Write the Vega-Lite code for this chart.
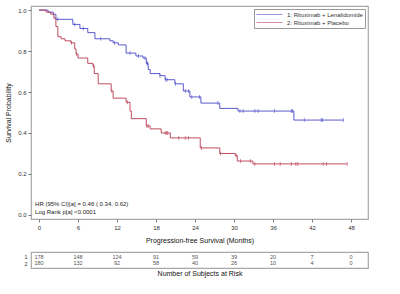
{
  "$schema": "https://vega.github.io/schema/vega-lite/v6.json",
  "background": "white",
  "padding": {"left": 4, "top": 5, "right": 5, "bottom": 5},
  "bounds": "flush",
  "spacing": 33,
  "config": {
    "font": "Liberation Sans",
    "view": {"stroke": "#a8a8a8", "strokeWidth": 1.2},
    "axis": {
      "labelFont": "Liberation Sans",
      "titleFont": "Liberation Sans",
      "labelColor": "#333333",
      "titleColor": "#111111",
      "titleFontWeight": "normal",
      "grid": false,
      "domain": false,
      "tickColor": "#777777"
    }
  },
  "datasets": {
    "km": [
      {"arm": "1: Rituximab + Lenalidomide", "month": 0, "surv": 1.0},
      {"arm": "1: Rituximab + Lenalidomide", "month": 1.4, "surv": 0.99},
      {"arm": "1: Rituximab + Lenalidomide", "month": 2.2, "surv": 0.98},
      {"arm": "1: Rituximab + Lenalidomide", "month": 2.6, "surv": 0.955},
      {"arm": "1: Rituximab + Lenalidomide", "month": 5.2, "surv": 0.93},
      {"arm": "1: Rituximab + Lenalidomide", "month": 6.3, "surv": 0.91},
      {"arm": "1: Rituximab + Lenalidomide", "month": 7.5, "surv": 0.89},
      {"arm": "1: Rituximab + Lenalidomide", "month": 8.6, "surv": 0.86},
      {"arm": "1: Rituximab + Lenalidomide", "month": 10.9, "surv": 0.85},
      {"arm": "1: Rituximab + Lenalidomide", "month": 11.4, "surv": 0.84},
      {"arm": "1: Rituximab + Lenalidomide", "month": 12.2, "surv": 0.83},
      {"arm": "1: Rituximab + Lenalidomide", "month": 13.4, "surv": 0.79},
      {"arm": "1: Rituximab + Lenalidomide", "month": 14.9, "surv": 0.776},
      {"arm": "1: Rituximab + Lenalidomide", "month": 16.0, "surv": 0.766},
      {"arm": "1: Rituximab + Lenalidomide", "month": 16.5, "surv": 0.74},
      {"arm": "1: Rituximab + Lenalidomide", "month": 16.8, "surv": 0.71},
      {"arm": "1: Rituximab + Lenalidomide", "month": 17.1, "surv": 0.69},
      {"arm": "1: Rituximab + Lenalidomide", "month": 18.6, "surv": 0.68},
      {"arm": "1: Rituximab + Lenalidomide", "month": 19.4, "surv": 0.66},
      {"arm": "1: Rituximab + Lenalidomide", "month": 20.9, "surv": 0.64},
      {"arm": "1: Rituximab + Lenalidomide", "month": 22.2, "surv": 0.605},
      {"arm": "1: Rituximab + Lenalidomide", "month": 23.2, "surv": 0.576},
      {"arm": "1: Rituximab + Lenalidomide", "month": 24.9, "surv": 0.546},
      {"arm": "1: Rituximab + Lenalidomide", "month": 27.8, "surv": 0.52},
      {"arm": "1: Rituximab + Lenalidomide", "month": 30.6, "surv": 0.507},
      {"arm": "1: Rituximab + Lenalidomide", "month": 39.2, "surv": 0.463},
      {"arm": "1: Rituximab + Lenalidomide", "month": 46.8, "surv": 0.463},
      {"arm": "2: Rituximab + Placebo", "month": 0, "surv": 1.0},
      {"arm": "2: Rituximab + Placebo", "month": 1.1, "surv": 0.99},
      {"arm": "2: Rituximab + Placebo", "month": 1.8, "surv": 0.98},
      {"arm": "2: Rituximab + Placebo", "month": 2.3, "surv": 0.96},
      {"arm": "2: Rituximab + Placebo", "month": 2.6, "surv": 0.92},
      {"arm": "2: Rituximab + Placebo", "month": 2.9, "surv": 0.87},
      {"arm": "2: Rituximab + Placebo", "month": 3.4, "surv": 0.86},
      {"arm": "2: Rituximab + Placebo", "month": 4.0, "surv": 0.85},
      {"arm": "2: Rituximab + Placebo", "month": 4.9, "surv": 0.84},
      {"arm": "2: Rituximab + Placebo", "month": 5.5, "surv": 0.81},
      {"arm": "2: Rituximab + Placebo", "month": 5.7, "surv": 0.785},
      {"arm": "2: Rituximab + Placebo", "month": 6.0, "surv": 0.766},
      {"arm": "2: Rituximab + Placebo", "month": 7.5, "surv": 0.74},
      {"arm": "2: Rituximab + Placebo", "month": 8.3, "surv": 0.727},
      {"arm": "2: Rituximab + Placebo", "month": 8.5, "surv": 0.69},
      {"arm": "2: Rituximab + Placebo", "month": 9.1, "surv": 0.64},
      {"arm": "2: Rituximab + Placebo", "month": 11.1, "surv": 0.605},
      {"arm": "2: Rituximab + Placebo", "month": 11.4, "surv": 0.57},
      {"arm": "2: Rituximab + Placebo", "month": 13.4, "surv": 0.55},
      {"arm": "2: Rituximab + Placebo", "month": 14.0, "surv": 0.507},
      {"arm": "2: Rituximab + Placebo", "month": 14.2, "surv": 0.47},
      {"arm": "2: Rituximab + Placebo", "month": 16.5, "surv": 0.434},
      {"arm": "2: Rituximab + Placebo", "month": 17.1, "surv": 0.42},
      {"arm": "2: Rituximab + Placebo", "month": 18.8, "surv": 0.40},
      {"arm": "2: Rituximab + Placebo", "month": 20.2, "surv": 0.376},
      {"arm": "2: Rituximab + Placebo", "month": 24.8, "surv": 0.327},
      {"arm": "2: Rituximab + Placebo", "month": 27.8, "surv": 0.30},
      {"arm": "2: Rituximab + Placebo", "month": 30.2, "surv": 0.29},
      {"arm": "2: Rituximab + Placebo", "month": 30.5, "surv": 0.263},
      {"arm": "2: Rituximab + Placebo", "month": 32.9, "surv": 0.249},
      {"arm": "2: Rituximab + Placebo", "month": 47.4, "surv": 0.249}
    ],
    "censored": [
      {"arm": "1: Rituximab + Lenalidomide", "month": 2.9, "surv": 0.955},
      {"arm": "1: Rituximab + Lenalidomide", "month": 5.5, "surv": 0.93},
      {"arm": "1: Rituximab + Lenalidomide", "month": 6.8, "surv": 0.91},
      {"arm": "1: Rituximab + Lenalidomide", "month": 9.5, "surv": 0.86},
      {"arm": "1: Rituximab + Lenalidomide", "month": 11.6, "surv": 0.84},
      {"arm": "1: Rituximab + Lenalidomide", "month": 14.0, "surv": 0.79},
      {"arm": "1: Rituximab + Lenalidomide", "month": 15.3, "surv": 0.776},
      {"arm": "1: Rituximab + Lenalidomide", "month": 16.3, "surv": 0.766},
      {"arm": "1: Rituximab + Lenalidomide", "month": 16.6, "surv": 0.74},
      {"arm": "1: Rituximab + Lenalidomide", "month": 16.7, "surv": 0.74},
      {"arm": "1: Rituximab + Lenalidomide", "month": 18.6, "surv": 0.68},
      {"arm": "1: Rituximab + Lenalidomide", "month": 19.5, "surv": 0.66},
      {"arm": "1: Rituximab + Lenalidomide", "month": 19.7, "surv": 0.66},
      {"arm": "1: Rituximab + Lenalidomide", "month": 21.0, "surv": 0.64},
      {"arm": "1: Rituximab + Lenalidomide", "month": 22.5, "surv": 0.605},
      {"arm": "1: Rituximab + Lenalidomide", "month": 23.0, "surv": 0.605},
      {"arm": "1: Rituximab + Lenalidomide", "month": 23.5, "surv": 0.576},
      {"arm": "1: Rituximab + Lenalidomide", "month": 24.7, "surv": 0.576},
      {"arm": "1: Rituximab + Lenalidomide", "month": 27.5, "surv": 0.546},
      {"arm": "1: Rituximab + Lenalidomide", "month": 30.9, "surv": 0.507},
      {"arm": "1: Rituximab + Lenalidomide", "month": 31.4, "surv": 0.507},
      {"arm": "1: Rituximab + Lenalidomide", "month": 33.2, "surv": 0.507},
      {"arm": "1: Rituximab + Lenalidomide", "month": 33.7, "surv": 0.507},
      {"arm": "1: Rituximab + Lenalidomide", "month": 36.2, "surv": 0.507},
      {"arm": "1: Rituximab + Lenalidomide", "month": 38.8, "surv": 0.507},
      {"arm": "1: Rituximab + Lenalidomide", "month": 39.0, "surv": 0.507},
      {"arm": "1: Rituximab + Lenalidomide", "month": 40.8, "surv": 0.463},
      {"arm": "1: Rituximab + Lenalidomide", "month": 43.4, "surv": 0.463},
      {"arm": "1: Rituximab + Lenalidomide", "month": 43.6, "surv": 0.463},
      {"arm": "1: Rituximab + Lenalidomide", "month": 46.8, "surv": 0.463},
      {"arm": "2: Rituximab + Placebo", "month": 5.0, "surv": 0.84},
      {"arm": "2: Rituximab + Placebo", "month": 5.8, "surv": 0.785},
      {"arm": "2: Rituximab + Placebo", "month": 8.4, "surv": 0.727},
      {"arm": "2: Rituximab + Placebo", "month": 11.2, "surv": 0.605},
      {"arm": "2: Rituximab + Placebo", "month": 13.6, "surv": 0.55},
      {"arm": "2: Rituximab + Placebo", "month": 16.6, "surv": 0.434},
      {"arm": "2: Rituximab + Placebo", "month": 16.8, "surv": 0.434},
      {"arm": "2: Rituximab + Placebo", "month": 19.4, "surv": 0.40},
      {"arm": "2: Rituximab + Placebo", "month": 19.6, "surv": 0.40},
      {"arm": "2: Rituximab + Placebo", "month": 19.8, "surv": 0.40},
      {"arm": "2: Rituximab + Placebo", "month": 21.5, "surv": 0.376},
      {"arm": "2: Rituximab + Placebo", "month": 22.5, "surv": 0.376},
      {"arm": "2: Rituximab + Placebo", "month": 23.0, "surv": 0.376},
      {"arm": "2: Rituximab + Placebo", "month": 25.0, "surv": 0.327},
      {"arm": "2: Rituximab + Placebo", "month": 27.9, "surv": 0.30},
      {"arm": "2: Rituximab + Placebo", "month": 30.3, "surv": 0.29},
      {"arm": "2: Rituximab + Placebo", "month": 31.0, "surv": 0.263},
      {"arm": "2: Rituximab + Placebo", "month": 32.5, "surv": 0.263},
      {"arm": "2: Rituximab + Placebo", "month": 33.2, "surv": 0.249},
      {"arm": "2: Rituximab + Placebo", "month": 36.2, "surv": 0.249},
      {"arm": "2: Rituximab + Placebo", "month": 37.1, "surv": 0.249},
      {"arm": "2: Rituximab + Placebo", "month": 38.8, "surv": 0.249},
      {"arm": "2: Rituximab + Placebo", "month": 39.5, "surv": 0.249},
      {"arm": "2: Rituximab + Placebo", "month": 39.8, "surv": 0.249},
      {"arm": "2: Rituximab + Placebo", "month": 43.7, "surv": 0.249},
      {"arm": "2: Rituximab + Placebo", "month": 44.2, "surv": 0.249},
      {"arm": "2: Rituximab + Placebo", "month": 47.4, "surv": 0.249}
    ],
    "atRisk": [
      {"row": "1", "month": 0, "n": 178},
      {"row": "1", "month": 6, "n": 148},
      {"row": "1", "month": 12, "n": 124},
      {"row": "1", "month": 18, "n": 91},
      {"row": "1", "month": 24, "n": 59},
      {"row": "1", "month": 30, "n": 39},
      {"row": "1", "month": 36, "n": 20},
      {"row": "1", "month": 42, "n": 7},
      {"row": "1", "month": 48, "n": 0},
      {"row": "2", "month": 0, "n": 180},
      {"row": "2", "month": 6, "n": 132},
      {"row": "2", "month": 12, "n": 92},
      {"row": "2", "month": 18, "n": 58},
      {"row": "2", "month": 24, "n": 40},
      {"row": "2", "month": 30, "n": 26},
      {"row": "2", "month": 36, "n": 10},
      {"row": "2", "month": 42, "n": 4},
      {"row": "2", "month": 48, "n": 0}
    ]
  },
  "vconcat": [
    {
      "width": 337,
      "height": 213,
      "layer": [
        {
          "data": {"name": "km"},
          "mark": {"type": "line", "interpolate": "step-after", "strokeWidth": 0.9},
          "encoding": {
            "x": {
              "field": "month",
              "type": "quantitative",
              "scale": {"domain": [-1.23, 50.6], "nice": false, "zero": false},
              "axis": {
                "values": [0, 6, 12, 18, 24, 30, 36, 42, 48],
                "title": "Progression-free Survival (Months)",
                "tickSize": 3,
                "labelFontSize": 6,
                "labelPadding": 2,
                "titleFontSize": 7,
                "titlePadding": 6
              }
            },
            "y": {
              "field": "surv",
              "type": "quantitative",
              "scale": {"domain": [-0.02, 1.02], "nice": false, "zero": false},
              "axis": {
                "values": [0, 0.2, 0.4, 0.6, 0.8, 1.0],
                "format": ".1f",
                "title": "Survival Probability",
                "tickSize": 3,
                "labelFontSize": 6,
                "labelPadding": 2,
                "titleFontSize": 7,
                "titlePadding": 6
              }
            },
            "color": {
              "field": "arm",
              "type": "nominal",
              "scale": {
                "domain": ["1: Rituximab + Lenalidomide", "2: Rituximab + Placebo"],
                "range": ["#4747c9", "#b8394f"]
              },
              "legend": {
                "title": null,
                "orient": "top-right",
                "offset": 3,
                "strokeColor": "#999999",
                "fillColor": "white",
                "padding": 2,
                "labelFontSize": 6,
                "labelFont": "Liberation Sans",
                "labelColor": "#333333",
                "symbolType": "M-1,0H7.7",
                "symbolSize": 36,
                "symbolStrokeWidth": 0.8,
                "rowPadding": 1,
                "labelOffset": 24
              }
            }
          }
        },
        {
          "data": {"name": "censored"},
          "mark": {"type": "tick", "orient": "vertical", "size": 4, "thickness": 0.8},
          "encoding": {
            "x": {"field": "month", "type": "quantitative"},
            "y": {"field": "surv", "type": "quantitative"},
            "color": {"field": "arm", "type": "nominal"}
          }
        },
        {
          "data": {"values": [{"note": ["HR (95% CI)[a] =  0.46 ( 0.34,  0.62)", "Log Rank p[a] <0.0001"]}]},
          "mark": {"type": "text", "align": "left", "baseline": "middle", "fontSize": 6, "lineHeight": 8, "color": "#222222"},
          "encoding": {
            "x": {"datum": -0.6},
            "y": {"datum": 0.054},
            "text": {"field": "note"}
          }
        }
      ]
    },
    {
      "width": 337,
      "height": 16,
      "data": {"name": "atRisk"},
      "mark": {"type": "text", "fontSize": 5.5, "color": "#555555"},
      "encoding": {
        "x": {
          "field": "month",
          "type": "quantitative",
          "scale": {"domain": [-1.23, 50.6], "nice": false, "zero": false},
          "axis": {
            "title": "Number of Subjects at Risk",
            "labels": false,
            "ticks": false,
            "titleFontSize": 7,
            "titlePadding": 1
          }
        },
        "y": {
          "field": "row",
          "type": "nominal",
          "scale": {"type": "point", "padding": 0.7},
          "axis": {"title": null, "ticks": false, "labelFontSize": 5.5, "labelPadding": 4}
        },
        "text": {"field": "n", "type": "quantitative"}
      }
    }
  ]
}
